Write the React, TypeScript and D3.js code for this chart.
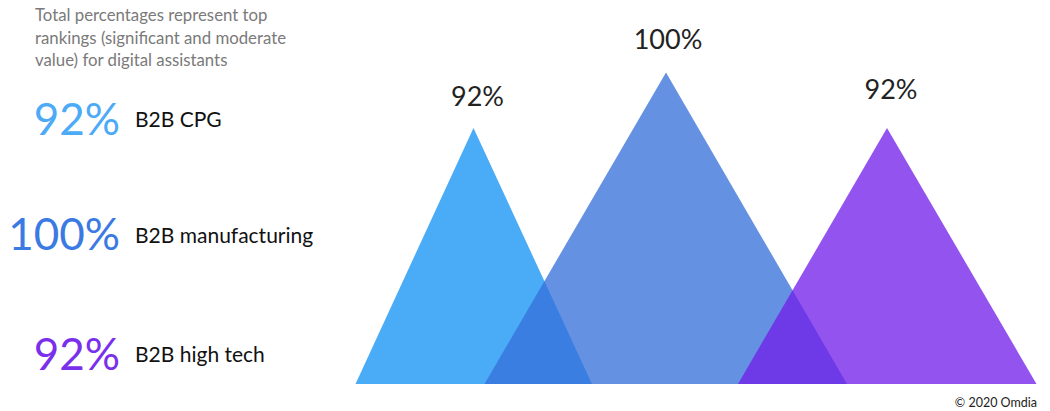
import React from "react";
import * as d3 from "d3";

const categories = ["B2B CPG", "B2B manufacturing", "B2B high tech"];
const values = [92, 100, 92];
const valueLabels = ["92%", "100%", "92%"];
const title = [
  "Total percentages represent top",
  "rankings (significant and moderate",
  "value) for digital assistants",
];
const source = "© 2020 Omdia";

// styling / layout (not data)
const W = 1050;
const H = 411;
const FONT = "Lato, 'Open Sans', sans-serif";
const legendColors = ["#4DAAF6", "#3B7AE2", "#7A2FEB"];
const triFill = ["#4AABF7", "rgb(54,112,218)", "rgb(113,29,233)"];
const triOpacity = [1, 0.77, 0.76];
// base extents in x units (left, center, right) for each triangle
const triBase: [number, number, number][] = [
  [355.5, 473.5, 592],
  [484.5, 666, 847],
  [738, 887, 1036.5],
];
const labelGap = [22, 23.5, 29];
const legendBaseline = [135, 250, 370];
const legendNameBaseline = [127, 243, 362];

export default function App() {
  const x = d3.scaleLinear().domain([0, W]).range([0, W]);
  const y = d3.scaleLinear().domain([92, 100]).range([128, 72.5]);
  const baseY = 384;
  const line = d3.line<[number, number]>().x((d) => x(d[0])).y((d) => d[1]);

  return (
    <svg
      width={W}
      height={H}
      style={{ position: "absolute", left: 0, top: 0 }}
      fontFamily={FONT}
    >
      <rect width={W} height={H} fill="#ffffff" />
      {title.map((t, i) => (
        <text key={i} x={35} y={21 + i * 22.5} fontSize={16.8} fill="#7a7a7a">
          {t}
        </text>
      ))}
      {categories.map((c, i) => (
        <g key={c}>
          <text
            x={120}
            y={legendBaseline[i]}
            fontSize={44}
            textAnchor="end"
            fill={legendColors[i]}
          >
            {valueLabels[i]}
          </text>
          <text x={135} y={legendNameBaseline[i]} fontSize={21} fill="#111111">
            {c}
          </text>
        </g>
      ))}
      {values.map((v, i) => {
        const [l, c, r] = triBase[i];
        const pts: [number, number][] = [
          [l, baseY],
          [c, y(v)],
          [r, baseY],
        ];
        return (
          <path
            key={i}
            d={line(pts) + "Z"}
            fill={triFill[i]}
            fillOpacity={triOpacity[i]}
          />
        );
      })}
      {values.map((v, i) => (
        <text
          key={i}
          x={x(triBase[i][1]) + (i === 1 ? 2 : 4)}
          y={y(v) - labelGap[i]}
          fontSize={27}
          textAnchor="middle"
          fill="#222222"
        >
          {valueLabels[i]}
        </text>
      ))}
      <text x={1037} y={407} fontSize={12.5} textAnchor="end" fill="#222222">
        {source}
      </text>
    </svg>
  );
}
